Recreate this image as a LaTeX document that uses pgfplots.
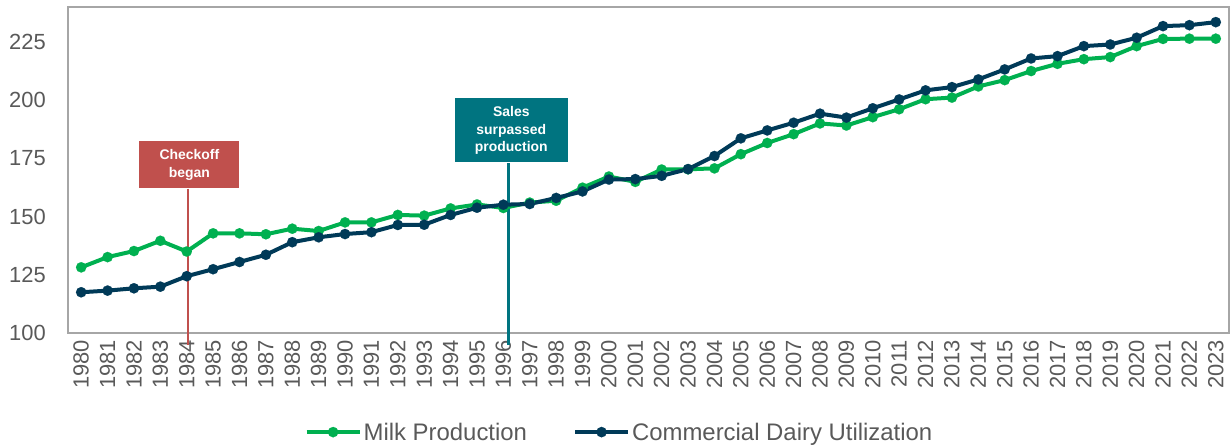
\documentclass[border=0pt]{standalone}
\usepackage{pgfplots}
\pgfplotsset{compat=1.18}
\usepackage{pgfplotstable}
\usepackage{fontspec}
\setmainfont{Liberation Sans}
\definecolor{milk}{RGB}{0,176,80}
\definecolor{util}{RGB}{0,58,88}
\definecolor{checkred}{RGB}{192,80,77}
\definecolor{salesteal}{RGB}{0,116,128}
\definecolor{txtgray}{RGB}{89,89,89}
\definecolor{framegray}{RGB}{166,166,166}

\pgfplotstableread{
year milk util
1980 128.2 117.5
1981 132.6 118.2
1982 135.2 119.2
1983 139.6 119.9
1984 135.0 124.4
1985 142.8 127.4
1986 142.8 130.5
1987 142.4 133.6
1988 144.8 139.0
1989 143.8 141.1
1990 147.5 142.5
1991 147.5 143.3
1992 150.7 146.4
1993 150.4 146.5
1994 153.5 150.7
1995 155.2 153.8
1996 153.7 155.1
1997 156.0 155.4
1998 156.8 158.0
1999 162.4 160.8
2000 167.2 165.9
2001 164.9 166.1
2002 170.2 167.5
2003 170.3 170.4
2004 170.7 176.0
2005 176.8 183.6
2006 181.6 187.0
2007 185.4 190.3
2008 190.0 194.2
2009 189.1 192.5
2010 192.7 196.5
2011 196.1 200.3
2012 200.4 204.2
2013 201.1 205.6
2014 205.9 208.9
2015 208.6 213.2
2016 212.5 217.9
2017 215.6 218.9
2018 217.6 223.2
2019 218.5 223.9
2020 223.2 226.8
2021 226.3 231.8
2022 226.4 232.2
2023 226.4 233.5
}\datatable

\begin{document}
\begin{tikzpicture}
\begin{axis}[
  scale only axis,
  width=1161bp, height=326bp,
  xmin=1979.5, xmax=2023.5,
  ymin=100, ymax=240,
  xtick={1980,1981,...,2023},
  ytick={100,125,150,175,200,225},
  major tick length=0pt,
  axis line style={framegray, line width=2bp},
  /pgf/number format/.cd, 1000 sep={}, assume math mode=true, /pgfplots/.cd,
  tick label style={text=txtgray, font=\fontsize{22}{22}\selectfont},
  x tick label style={rotate=90, anchor=east, inner sep=0pt},
  y tick label style={anchor=east, inner sep=0pt},
  xticklabel shift=7bp,
  yticklabel shift=22bp,
  clip=false,
  legend columns=2,
  legend style={at={(axis description cs:0.475,-0.304)}, anchor=center,
    draw=none, fill=none, text=txtgray, font=\fontsize{24}{24}\selectfont,
    nodes={inner sep=2bp},
    /tikz/every even column/.append style={column sep=44bp}},
  legend image code/.code={\draw[mark repeat=2,mark phase=2] plot coordinates {(0bp,0bp) (26.5bp,0bp) (53bp,0bp)};},
]
\draw[checkred, line width=2bp] (axis cs:1984.05,162) -- (axis cs:1984.05,94.9);
\draw[salesteal, line width=3bp] (axis cs:1996.2,173) -- (axis cs:1996.2,94.9);
\node[fill=checkred, text=white, minimum width=100bp, minimum height=47bp, inner sep=0pt, align=center, font=\fontsize{14}{18}\selectfont\bfseries] at (axis cs:1984.1,172.3) {Checkoff\\began};
\node[fill=salesteal, text=white, minimum width=113bp, minimum height=64bp, inner sep=0pt, align=center, font=\fontsize{14}{18}\selectfont\bfseries] at (axis cs:1996.3,187) {Sales\\surpassed\\production};
\addplot[milk, line width=4bp, mark=*, mark size=5.2bp, mark options={solid, fill=milk, draw=milk, line width=0.1pt}] table[x=year, y=milk] {\datatable};
\addlegendentry{Milk Production}
\addplot[util, line width=4bp, mark=*, mark size=5.2bp, mark options={solid, fill=util, draw=util, line width=0.1pt}] table[x=year, y=util] {\datatable};
\addlegendentry{Commercial Dairy Utilization}
\end{axis}
\pgfresetboundingbox
\path (-68bp,-112bp) rectangle (1163bp,333bp);
\end{tikzpicture}
\end{document}
